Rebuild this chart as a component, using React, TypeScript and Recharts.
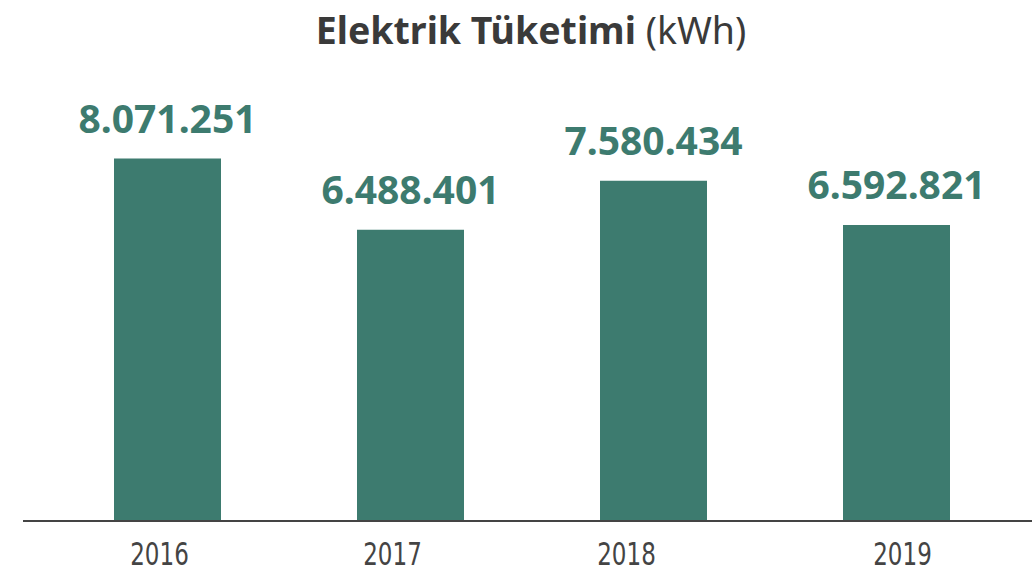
import React from 'react';
import { BarChart, Bar, XAxis, YAxis, LabelList } from 'recharts';

const years = ['2016', '2017', '2018', '2019'];
const consumption = [8071251, 6488401, 7580434, 6592821];

const data = years.map((year, i) => ({ year, kwh: consumption[i] }));

const GREEN = '#3d7b6f';
// the year labels in the original sit a little off the bar centres
const TICK_NUDGE = [-8, -18, -27, 6];

function formatTr(value: number) {
  return value.toString().replace(/\B(?=(\d{3})+(?!\d))/g, '.');
}

function YearTick(props: any) {
  const { x, y, payload, index } = props;
  const cx = x + (TICK_NUDGE[index] || 0);
  return (
    <text
      transform={`translate(${cx},${y + 22}) scale(0.8,1)`}
      x={0}
      y={0}
      textAnchor="middle"
      fill="#444"
      fontSize={32}
      fontFamily='"DejaVu Sans Condensed", "DejaVu Sans", sans-serif'
    >
      {payload.value}
    </text>
  );
}

export default function App() {
  return (
    <div style={{ position: 'absolute', left: 0, top: 0, width: 1032, height: 580, background: '#fff' }}>
      <div
        style={{
          position: 'absolute',
          top: 5,
          left: 0,
          width: 1062,
          textAlign: 'center',
          fontFamily: '"Noto Sans", sans-serif',
          fontSize: 37.5,
          color: '#3a3a3a',
          lineHeight: '50px',
        }}
      >
        <span style={{ fontWeight: 700 }}>Elektrik Tüketimi</span> (kWh)
      </div>
      <BarChart
        width={1032}
        height={580}
        data={data}
        margin={{ top: 72, right: 0, left: 23, bottom: 0 }}
      >
        <XAxis
          dataKey="year"
          height={59}
          padding={{ left: 23, right: 14 }}
          axisLine={{ stroke: '#444', strokeWidth: 2 }}
          tickLine={false}
          tickSize={0}
          tickMargin={22}
          tick={<YearTick />}
        />
        <YAxis hide domain={[0, 10000000]} />
        <Bar dataKey="kwh" fill={GREEN} barSize={107} isAnimationActive={false}>
          <LabelList
            dataKey="kwh"
            position="top"
            offset={26}
            formatter={(v: number) => formatTr(v)}
            style={{ fill: GREEN, fontSize: 39, fontWeight: 700, fontFamily: '"Noto Sans", sans-serif' }}
          />
        </Bar>
      </BarChart>
    </div>
  );
}
